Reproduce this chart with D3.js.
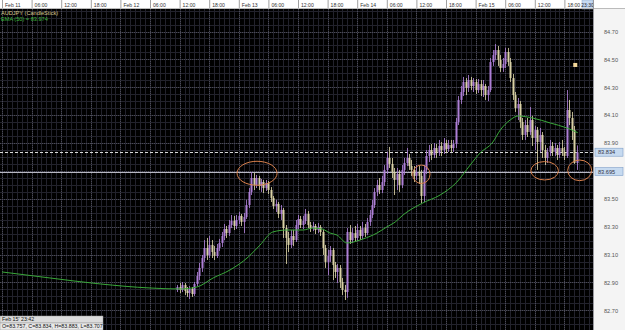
<!DOCTYPE html>
<html><head><meta charset="utf-8">
<script src="https://cdn.jsdelivr.net/npm/d3@7"></script>
<style>
html,body{margin:0;padding:0;background:#000;overflow:hidden}
svg{display:block;font-family:"Liberation Sans",Arial,sans-serif}
</style></head><body>
<svg id="c" width="625" height="330"></svg>
<script>
const symbolLabel = "AUDJPY (CandleStick)";
const emaLabel = "EMA (50) = 83.974";
const chartStart = "2013-02-11T00:00:00";
const chartEnd = "2013-02-16T00:00:00";
const firstCandle = "2013-02-12T11:30:00";
const candleMinutes = 30;

const opens = [82.846,82.867,82.846,82.882,82.839,82.824,82.853,82.817,82.889,82.946,
83.004,83.075,83.147,83.097,83.169,83.118,83.090,83.147,83.183,83.233,
83.283,83.254,83.312,83.341,83.305,83.348,83.377,83.334,83.369,83.455,
83.549,83.649,83.599,83.649,83.592,83.620,83.577,83.613,83.563,83.506,
83.448,83.463,83.391,83.420,83.290,83.219,83.169,83.233,83.204,83.312,
83.355,83.312,83.341,83.391,83.312,83.290,83.305,83.276,83.298,83.262,
83.147,83.047,83.090,83.133,83.025,82.975,83.004,82.903,82.846,82.831,
83.262,83.204,83.254,83.219,83.276,83.233,83.290,83.254,83.334,83.384,
83.455,83.549,83.599,83.563,83.620,83.707,83.793,83.750,83.692,83.635,
83.678,83.599,83.707,83.757,83.793,83.735,83.707,83.664,83.692,83.664,
83.520,83.707,83.807,83.850,83.814,83.864,83.829,83.879,83.850,83.900,
83.857,83.886,83.864,83.893,84.051,84.209,84.266,84.338,84.295,84.352,
84.309,84.338,84.280,84.323,84.280,84.309,84.244,84.280,84.481,84.531,
84.567,84.496,84.438,84.467,84.553,84.481,84.366,84.244,84.151,84.180,
84.051,83.958,84.029,83.979,84.065,83.936,83.993,83.907,83.958,83.850,
83.793,83.836,83.879,83.836,83.864,83.814,83.864,83.836,83.807,84.137,
84.080,83.993,83.757];
const highs = [82.882,82.896,82.903,82.896,82.867,82.874,82.867,82.903,82.975,83.040,
83.097,83.204,83.219,83.233,83.204,83.161,83.176,83.212,83.262,83.319,
83.305,83.348,83.384,83.377,83.384,83.405,83.391,83.398,83.491,83.577,
83.692,83.685,83.671,83.664,83.642,83.635,83.635,83.628,83.584,83.520,
83.491,83.477,83.455,83.434,83.312,83.262,83.276,83.276,83.348,83.384,
83.377,83.377,83.427,83.412,83.334,83.334,83.319,83.326,83.312,83.276,
83.169,83.133,83.161,83.147,83.047,83.032,83.025,82.932,82.882,83.290,
83.312,83.290,83.305,83.319,83.305,83.334,83.319,83.362,83.420,83.491,
83.577,83.635,83.649,83.664,83.742,83.836,83.872,83.793,83.721,83.721,
83.707,83.742,83.793,83.864,83.821,83.778,83.735,83.742,83.735,83.707,
83.742,83.850,83.886,83.893,83.900,83.893,83.922,83.907,83.936,83.922,
83.922,83.922,83.922,84.080,84.237,84.309,84.374,84.366,84.388,84.374,
84.366,84.359,84.359,84.352,84.352,84.323,84.309,84.510,84.567,84.610,
84.596,84.531,84.510,84.582,84.582,84.510,84.395,84.266,84.223,84.201,
84.080,84.065,84.080,84.158,84.094,84.022,84.015,84.008,83.979,83.886,
83.864,83.922,83.907,83.900,83.886,83.907,83.922,83.872,84.280,84.209,
84.123,84.022,83.883];
const lows = [82.831,82.824,82.831,82.810,82.796,82.781,82.796,82.803,82.874,82.917,
82.975,83.047,83.061,83.075,83.075,83.061,83.075,83.126,83.154,83.204,
83.219,83.233,83.290,83.276,83.283,83.319,83.305,83.254,83.355,83.434,
83.527,83.563,83.577,83.563,83.549,83.541,83.556,83.534,83.477,83.427,
83.405,83.362,83.348,83.219,83.032,83.118,83.147,83.161,83.190,83.283,
83.290,83.283,83.319,83.290,83.262,83.269,83.247,83.254,83.233,83.097,
83.004,82.953,83.047,82.917,82.932,82.896,82.860,82.810,82.774,82.789,
83.176,83.183,83.190,83.197,83.204,83.212,83.226,83.240,83.305,83.362,
83.434,83.520,83.534,83.541,83.592,83.678,83.721,83.649,83.527,83.563,
83.549,83.577,83.671,83.735,83.707,83.664,83.620,83.635,83.606,83.470,
83.477,83.678,83.764,83.778,83.793,83.793,83.807,83.807,83.821,83.829,
83.836,83.836,83.836,83.864,84.029,84.180,84.237,84.244,84.266,84.280,
84.266,84.252,84.259,84.237,84.230,84.209,84.201,84.266,84.453,84.496,
84.453,84.410,84.410,84.438,84.453,84.338,84.209,84.123,84.065,84.008,
83.922,83.922,83.943,83.958,83.879,83.850,83.707,83.836,83.793,83.742,
83.757,83.807,83.807,83.807,83.778,83.793,83.807,83.778,83.793,84.029,
83.922,83.750,83.707];
const closes = [82.867,82.846,82.882,82.839,82.824,82.853,82.817,82.889,82.946,83.004,
83.075,83.147,83.097,83.169,83.118,83.090,83.147,83.183,83.233,83.283,
83.254,83.312,83.341,83.305,83.348,83.377,83.334,83.369,83.455,83.549,
83.649,83.599,83.649,83.592,83.620,83.577,83.613,83.563,83.506,83.448,
83.463,83.391,83.420,83.290,83.219,83.169,83.233,83.204,83.312,83.355,
83.312,83.341,83.391,83.312,83.290,83.305,83.276,83.298,83.262,83.147,
83.047,83.090,83.133,83.025,82.975,83.004,82.903,82.846,82.831,83.262,
83.204,83.254,83.219,83.276,83.233,83.290,83.254,83.334,83.384,83.455,
83.549,83.599,83.563,83.620,83.707,83.793,83.750,83.692,83.635,83.678,
83.599,83.707,83.757,83.793,83.735,83.707,83.664,83.692,83.664,83.520,
83.707,83.807,83.850,83.814,83.864,83.829,83.879,83.850,83.900,83.857,
83.886,83.864,83.893,84.051,84.209,84.266,84.338,84.295,84.352,84.309,
84.338,84.280,84.323,84.280,84.309,84.244,84.280,84.481,84.531,84.567,
84.496,84.438,84.467,84.553,84.481,84.366,84.244,84.151,84.180,84.051,
83.958,84.029,83.979,84.065,83.936,83.993,83.907,83.958,83.850,83.793,
83.836,83.879,83.836,83.864,83.814,83.864,83.836,83.807,84.137,84.080,
83.993,83.757,83.834];

// EMA(50): hours after Feb 11 00:00, and values
const emaHours = [0,9.7,19.9,30,36.1,39.5,42.8,46.2,49.9,52.3,54.9,57.8,61,63,64.9,66.5,67.9,69.9,73.2,76,78,79.7,81.3,85.3,88.8,92.2,94.9,96.9,99.5,101,103,104.6,107.6,111.1,114.5,116.7];
const emaValues = [82.975,82.932,82.889,82.860,82.853,82.867,82.932,82.989,83.082,83.168,83.262,83.276,83.276,83.290,83.283,83.254,83.240,83.183,83.212,83.254,83.298,83.333,83.384,83.470,83.527,83.620,83.742,83.828,83.907,83.993,84.065,84.094,84.079,84.044,84.008,83.974];

const priceTicks = [82.70,82.90,83.10,83.30,83.50,83.70,83.90,84.10,84.30,84.50,84.70];
const lastPrice = 83.834;
const levelPrice = 83.695;
const cursorLabel = "23:30";
const infoTime = "Feb 15' 23:42";
const infoOHLC = "O=83.757, C=83.834, H=83.883, L=83.707";

const W = 625, H = 330, plotR = 593, headH = 9;
const svg = d3.select("#c");
const parse = d3.timeParse("%Y-%m-%dT%H:%M:%S");
const t0 = parse(chartStart), t1 = parse(chartEnd), tc = parse(firstCandle);
const x = d3.scaleTime().domain([t0, t1]).range([2, 594]);
const y = d3.scaleLinear().domain([82.70, 84.70]).range([310.3, 31.5]);

svg.append("rect").attr("width", W).attr("height", H).attr("fill", "#000");
svg.append("clipPath").attr("id","pc").append("rect").attr("x",0).attr("y",headH).attr("width",plotR).attr("height",H-headH);
const plot = svg.append("g").attr("clip-path","url(#pc)");

// grid
const minorH = d3.range(82.55, 84.90, 0.05);
plot.selectAll(".gh").data(minorH).join("line")
  .attr("x1",0).attr("x2",plotR)
  .attr("y1",d=>Math.round(y(d))+0.5).attr("y2",d=>Math.round(y(d))+0.5)
  .attr("stroke","#22222c").attr("stroke-width",1);
const minorV = d3.timeMinute.every(90).range(t0, t1);
plot.selectAll(".gv").data(minorV).join("line")
  .attr("y1",headH).attr("y2",H)
  .attr("x1",d=>Math.round(x(d))+0.5).attr("x2",d=>Math.round(x(d))+0.5)
  .attr("stroke","#22222c").attr("stroke-width",1);
plot.selectAll(".Gh").data(priceTicks).join("line")
  .attr("x1",0).attr("x2",plotR)
  .attr("y1",d=>Math.round(y(d))+0.5).attr("y2",d=>Math.round(y(d))+0.5)
  .attr("stroke","#4a4a56").attr("stroke-dasharray","1,1");
const majorV = d3.timeHour.every(6).range(t0, t1);
plot.selectAll(".Gv").data(majorV).join("line")
  .attr("y1",headH).attr("y2",H)
  .attr("x1",d=>Math.round(x(d))+0.5).attr("x2",d=>Math.round(x(d))+0.5)
  .attr("stroke","#4a4a56").attr("stroke-dasharray","1,1");

// level lines
plot.append("line").attr("x1",0).attr("x2",plotR)
  .attr("y1",Math.round(y(levelPrice))+0.5).attr("y2",Math.round(y(levelPrice))+0.5)
  .attr("stroke","#b8b8c4").attr("stroke-width",1);
plot.append("line").attr("x1",0).attr("x2",plotR)
  .attr("y1",Math.round(y(lastPrice))+0.5).attr("y2",Math.round(y(lastPrice))+0.5)
  .attr("stroke","#d8d8d8").attr("stroke-dasharray","3,2");

// candles
const candles = closes.map((c,i)=>({t:d3.timeMinute.offset(tc, i*candleMinutes), o:opens[i], h:highs[i], l:lows[i], c}));
const upCol = "#ad7fd6", dnCol = "#d9d1a6";
const cg = plot.append("g");
cg.selectAll(".w").data(candles).join("line")
  .attr("x1",d=>Math.round(x(d.t))+0.5).attr("x2",d=>Math.round(x(d.t))+0.5)
  .attr("y1",d=>y(d.h)).attr("y2",d=>y(d.l))
  .attr("stroke",d=>d.c>=d.o?upCol:dnCol).attr("stroke-width",1).attr("opacity",0.85);
cg.selectAll(".b").data(candles).join("rect")
  .attr("x",d=>Math.round(x(d.t))-0.5).attr("width",2)
  .attr("y",d=>y(Math.max(d.o,d.c)))
  .attr("height",d=>Math.max(1, Math.abs(y(d.o)-y(d.c))))
  .attr("fill",d=>d.c>=d.o?upCol:dnCol);

// EMA
const ema = emaHours.map((h,i)=>({t:d3.timeMinute.offset(t0, Math.round(h*60)), v:emaValues[i]}));
plot.append("path").datum(ema)
  .attr("d", d3.line().x(d=>x(d.t)).y(d=>y(d.v)).curve(d3.curveMonotoneX))
  .attr("fill","none").attr("stroke","#3aa83a").attr("stroke-width",1);

// annotations (hand-drawn circles)
const ann = [{h:51.7,v:83.683,rx:20,ry:12},{h:85.0,v:83.676,rx:8.7,ry:9.2},{h:110.0,v:83.701,rx:13.8,ry:9.2},{h:117.1,v:83.704,rx:12,ry:10.3}];
plot.selectAll(".an").data(ann).join("ellipse")
  .attr("cx",d=>x(d3.timeMinute.offset(t0, Math.round(d.h*60)))).attr("cy",d=>y(d.v))
  .attr("rx",d=>d.rx).attr("ry",d=>d.ry)
  .attr("fill","none").attr("stroke","#d8804c").attr("stroke-width",1);
const mk = {h:116.2, v:84.460};
plot.append("rect").attr("x",x(d3.timeMinute.offset(t0, Math.round(mk.h*60)))-2).attr("y",y(mk.v)-2)
  .attr("width",4).attr("height",4).attr("fill","#f3d79a");

// titles
svg.append("text").attr("x",1).attr("y",14.5).attr("font-size",5.6).attr("fill","#d6c98e").text(symbolLabel);
svg.append("text").attr("x",1).attr("y",20.5).attr("font-size",5.6).attr("fill","#3cb83c").text(emaLabel);

// header
svg.append("rect").attr("x",0).attr("y",0).attr("width",W).attr("height",headH).attr("fill","#ffffff");
const hx = svg.append("g").attr("transform",`translate(0,${headH})`)
  .call(d3.axisTop(x).ticks(d3.timeHour.every(6)).tickSize(headH)
    .tickFormat(d=>d.getHours()===0 ? d3.timeFormat("%b %d")(d) : d3.timeFormat("%H:%M")(d)));
hx.select(".domain").remove();
hx.selectAll(".tick line").attr("stroke","#a0a0a0");
hx.selectAll(".tick text").attr("x",2.5).attr("y",-2.2).attr("dy",0).attr("text-anchor","start")
  .attr("font-size",5.1).attr("fill","#333").attr("font-family","Liberation Sans, Arial, sans-serif");
hx.selectAll(".tick").filter(d=>x(d)>578).remove();
svg.append("rect").attr("x",582).attr("y",0).attr("width",11).attr("height",headH).attr("fill","#c6daf0").attr("stroke","#8aa8cc").attr("stroke-width",0.5);
svg.append("text").attr("x",587.5).attr("y",6.6).attr("text-anchor","middle").attr("font-size",5).attr("fill","#223").text(cursorLabel);
svg.append("line").attr("x1",0).attr("x2",W).attr("y1",headH-0.5).attr("y2",headH-0.5).attr("stroke","#bbb");

// right axis panel
svg.append("rect").attr("x",plotR).attr("y",headH).attr("width",W-plotR).attr("height",H-headH).attr("fill","#f4f4f4");
svg.append("line").attr("x1",plotR+0.5).attr("x2",plotR+0.5).attr("y1",0).attr("y2",H).attr("stroke","#9a9aa0");
const boxes = [lastPrice, levelPrice];
const ry = svg.append("g").attr("transform",`translate(${plotR},0)`)
  .call(d3.axisRight(y).tickValues(priceTicks).tickSize(0).tickPadding(11).tickFormat(d3.format(".2f")));
ry.select(".domain").remove();
ry.selectAll("text").attr("font-size",5.6).attr("fill","#555").attr("font-family","Liberation Sans, Arial, sans-serif");
// labels hidden beneath the price boxes (as in the reference)
ry.selectAll(".tick").filter(d=>boxes.some(b=>Math.abs(y(b)-y(d))<8)).remove();

function priceBox(v){
  const g = svg.append("g").attr("transform",`translate(${plotR+2},${y(v)})`);
  g.append("rect").attr("x",0).attr("y",-4).attr("width",28).attr("height",8).attr("fill","#c6daf0").attr("stroke","#7f9fc8").attr("stroke-width",0.6);
  g.append("text").attr("x",3).attr("y",2.2).attr("font-size",5.6).attr("fill","#334").text(d3.format(".3f")(v));
}
boxes.forEach(priceBox);

// info box
const ib = svg.append("g").attr("transform","translate(0,316)");
ib.append("rect").attr("x",0).attr("y",0).attr("width",103).attr("height",7).attr("fill","#dcdcdc").attr("stroke","#999").attr("stroke-width",0.5);
ib.append("rect").attr("x",0).attr("y",7).attr("width",103).attr("height",7).attr("fill","#e8e8e8").attr("stroke","#999").attr("stroke-width",0.5);
ib.append("text").attr("x",2).attr("y",5.4).attr("font-size",5.3).attr("fill","#111").text(infoTime);
ib.append("text").attr("x",2).attr("y",12.4).attr("font-size",5.3).attr("fill","#111").text(infoOHLC);
</script>
</body></html>
